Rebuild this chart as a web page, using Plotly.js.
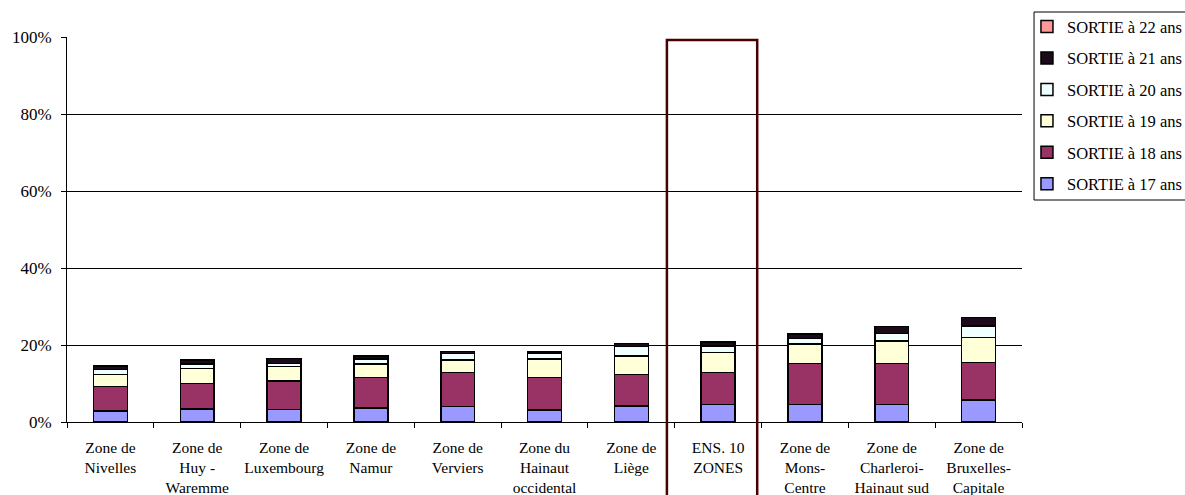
<!DOCTYPE html>
<html>
<head>
<meta charset="utf-8">
<script src="https://cdn.plot.ly/plotly-3.0.1.min.js"></script>
<style>html,body{margin:0;padding:0;background:#fff;}#chart{width:1185px;height:495px;}</style>
</head>
<body>
<div id="chart"></div>
<script>
const categories = [
  "Zone de<br>Nivelles", "Zone de<br>Huy -<br>Waremme", "Zone de<br>Luxembourg", "Zone de<br>Namur",
  "Zone de<br>Verviers", "Zone du<br>Hainaut<br>occidental", "Zone de<br>Liège", "ENS. 10<br>ZONES",
  "Zone de<br>Mons-<br>Centre", "Zone de<br>Charleroi-<br>Hainaut sud", "Zone de<br>Bruxelles-<br>Capitale"
];
const sortie17 = [2.9, 3.4, 3.3, 3.7, 4.0, 3.1, 4.2, 4.6, 4.6, 4.6, 5.7];
const sortie18 = [6.3, 6.6, 7.4, 7.9, 8.8, 8.5, 8.2, 8.2, 10.6, 10.6, 9.8];
const sortie19 = [3.2, 3.9, 3.7, 3.5, 3.3, 4.8, 4.8, 5.2, 5.1, 5.9, 6.4];
const sortie20 = [1.3, 1.2, 0.8, 1.3, 1.7, 1.5, 2.4, 1.7, 1.4, 1.9, 3.0];
const sortie21 = [0.8, 1.0, 1.3, 0.8, 0.5, 0.4, 0.8, 1.1, 1.2, 1.8, 2.2];
const sortie22 = [0, 0, 0, 0, 0, 0, 0, 0, 0, 0, 0];
const seriesNames = ["SORTIE à 17 ans", "SORTIE à 18 ans", "SORTIE à 19 ans", "SORTIE à 20 ans", "SORTIE à 21 ans", "SORTIE à 22 ans"];
const seriesValues = [sortie17, sortie18, sortie19, sortie20, sortie21, sortie22];
const seriesColors = ["#9999FF", "#993366", "#FFFFD8", "#F0FFFF", "#1A0A1A", "#FF9999"];
const yTicks = [0, 20, 40, 60, 80, 100];
const yTickLabels = ["0%", "20%", "40%", "60%", "80%", "100%"];

const font = "'Liberation Serif', 'Times New Roman', serif";

const traces = seriesNames.map((n, i) => ({
  type: "bar",
  name: n,
  x: categories,
  y: seriesValues[i],
  legendgroup: "g" + i,
  legendrank: 100 - i * 10,
  marker: { color: seriesColors[i], line: { color: "#000", width: 1.5 } },
  hoverinfo: "x+y+name"
}));

const layout = {
  width: 1185, height: 495,
  margin: { l: 67, r: 163, t: 37, b: 73, autoexpand: false },
  paper_bgcolor: "#fff", plot_bgcolor: "#fff",
  barmode: "stack",
  bargap: 0.61,
  font: { family: font, color: "#000", size: 15 },
  xaxis: {
    type: "category",
    showline: true, linecolor: "#000", linewidth: 1,
    ticks: "outside", ticklen: 5, tickcolor: "#000", tickson: "boundaries",
    tickfont: { family: font, size: 15.5, color: "#000" },
    ticklabelstandoff: 11,
    showgrid: false, zeroline: false, tickangle: 0, automargin: false
  },
  yaxis: {
    range: [0, 100], tickmode: "array", tickvals: yTicks, ticktext: yTickLabels,
    showline: true, linecolor: "#000", linewidth: 1,
    ticks: "outside", ticklen: 5, tickcolor: "#000",
    tickfont: { family: font, size: 17, color: "#000" },
    ticklabelstandoff: 6,
    showgrid: true, gridcolor: "#000", gridwidth: 1, zeroline: false, automargin: false
  },
  showlegend: true,
  legend: {
    x: 1.0052, xanchor: "left", y: 1.072, yanchor: "top",
    traceorder: "grouped", tracegroupgap: 7,
    bgcolor: "rgba(0,0,0,0)", borderwidth: 0,
    font: { family: font, size: 16.5, color: "#000" }
  },
  shapes: [
    { type: "rect", xref: "paper", yref: "paper", x0: 1.0126, x1: 1.25, y0: 0.5766, y1: 1.0649,
      line: { color: "#000", width: 1 }, fillcolor: "rgba(0,0,0,0)", layer: "below" },
    { type: "rect", xref: "x", yref: "paper", x0: 6.41, x1: 7.45, y0: -0.3, y1: 0.992,
      line: { color: "#4a0000", width: 2.5 }, fillcolor: "rgba(0,0,0,0)" }
  ]
};

Plotly.newPlot("chart", traces, layout, { displayModeBar: false, staticPlot: true });
</script>
</body>
</html>
